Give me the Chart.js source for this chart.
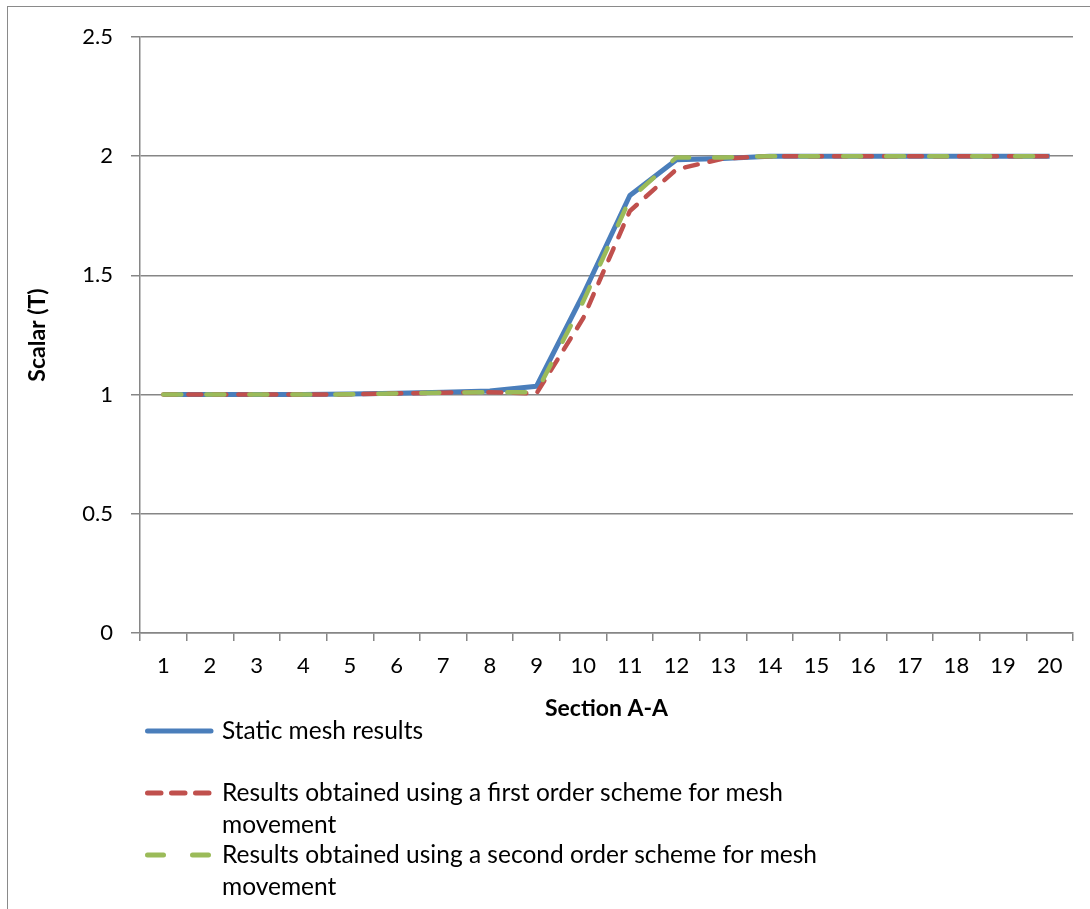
<!DOCTYPE html>
<html>
<head>
<meta charset="utf-8">
<script src="https://cdn.jsdelivr.net/npm/chart.js@4.4.1/dist/chart.umd.min.js"></script>
<style>
  html, body { margin: 0; padding: 0; background: #ffffff; overflow: hidden; }
  #wrap { position: relative; width: 1090px; height: 909px; }
  #frame { position: absolute; left: 7px; top: 6px; width: 1100px; height: 920px;
           border: 1.5px solid #8a8a8a; pointer-events: none; box-sizing: border-box; }
  canvas { position: absolute; left: 0; top: 0; }
</style>
</head>
<body>
<div id="wrap">
  <canvas id="chart" width="1090" height="909"></canvas>
  <div id="frame"></div>
</div>
<script>
// Section A-A sample positions
const sections = ['1','2','3','4','5','6','7','8','9','10','11','12','13','14','15','16','17','18','19','20'];

// Scalar T along the section
const staticMesh  = [1, 1, 1, 1, 1.002, 1.006, 1.01, 1.015, 1.035, 1.42, 1.835, 1.985, 1.99, 2, 2, 2, 2, 2, 2, 2];
const firstOrder  = [1, 1, 1, 1, 1.001, 1.005, 1.008, 1.01, 1.005, 1.32, 1.77, 1.945, 1.99, 2, 2, 2, 2, 2, 2, 2];
const secondOrder = [1, 1, 1, 1, 1.001, 1.005, 1.008, 1.01, 1.01, 1.39, 1.82, 1.995, 1.995, 2, 2, 2, 2, 2, 2, 2];

const seriesNames = [
  'Static mesh results',
  'Results obtained using a first order scheme for mesh movement',
  'Results obtained using a second order scheme for mesh movement'
];

const yTicks = [0, 0.5, 1, 1.5, 2, 2.5];

const FONT = 'Lato, "Open Sans", sans-serif';
const GRID = '#868686';

// Legend stacked under the x-axis title; long names wrap onto a second line
const legendRows = [
  { lines: ['Static mesh results'], y: 731 },
  { lines: ['Results obtained using a first order scheme for mesh', 'movement'], y: 793 },
  { lines: ['Results obtained using a second order scheme for mesh', 'movement'], y: 855 }
];
const legendKeyDash = [[], [13.5, 10.5], [16, 29]];

const stackedLegend = {
  id: 'stackedLegend',
  afterDraw(chart) {
    const ctx = chart.ctx;
    chart.data.datasets.forEach((ds, i) => {
      const row = legendRows[i];
      ctx.save();
      ctx.strokeStyle = ds.borderColor;
      ctx.lineWidth = 5;
      ctx.lineCap = 'round';
      ctx.setLineDash(legendKeyDash[i]);
      ctx.beginPath();
      ctx.moveTo(147.5, row.y);
      ctx.lineTo(211, row.y);
      ctx.stroke();
      ctx.restore();
      ctx.save();
      ctx.fillStyle = '#000000';
      ctx.font = '24.5px ' + FONT;
      ctx.textBaseline = 'middle';
      ctx.textAlign = 'left';
      row.lines.forEach((t, k) => ctx.fillText(t, 222, row.y + k * 32));
      ctx.restore();
    });
  }
};

new Chart(document.getElementById('chart'), {
  type: 'line',
  data: {
    labels: sections,
    datasets: [
      { label: seriesNames[0], data: staticMesh, borderColor: '#4a7ebb', backgroundColor: '#4a7ebb',
        borderWidth: 5, pointRadius: 0, tension: 0, order: 3, borderJoinStyle: 'round' },
      { label: seriesNames[1], data: firstOrder, borderColor: '#c0504d', backgroundColor: '#c0504d',
        borderWidth: 4.5, borderDash: [13, 12], borderCapStyle: 'round', pointRadius: 0, tension: 0, order: 2 },
      { label: seriesNames[2], data: secondOrder, borderColor: '#9bbb59', backgroundColor: '#9bbb59',
        borderWidth: 4.5, borderDash: [18, 25], borderCapStyle: 'round', pointRadius: 0, tension: 0, order: 1 }
    ]
  },
  options: {
    responsive: false,
    animation: false,
    layout: { padding: { top: 37, right: 17, left: 0, bottom: 0 } },
    plugins: { legend: { display: false }, tooltip: { enabled: false } },
    scales: {
      x: {
        offset: true,
        afterFit(scale) { scale.height = 276; },
        grid: { offset: true, drawOnChartArea: false, drawTicks: true, tickLength: 8, color: GRID, lineWidth: 1.5 },
        border: { color: GRID, width: 1.5 },
        ticks: { color: '#000000', font: { family: FONT, size: 22 }, padding: 12, maxRotation: 0, autoSkip: false },
        title: { display: true, text: 'Section A-A', color: '#000000',
                 font: { family: FONT, size: 23, weight: 'bold' }, padding: { top: 0, bottom: 187 } }
      },
      y: {
        min: 0, max: 2.5,
        afterFit(scale) { scale.width = 140; },
        afterBuildTicks(scale) { scale.ticks = yTicks.map(v => ({ value: v })); },
        grid: { color: GRID, lineWidth: 1.5, tickLength: 9, drawTicks: true },
        border: { color: GRID, width: 1.5 },
        ticks: { color: '#000000', font: { family: FONT, size: 22 }, padding: 18,
                 callback: v => String(v) },
        title: { display: true, text: 'Scalar (T)', color: '#000000',
                 font: { family: FONT, size: 23, weight: 'bold' }, padding: { top: 24, bottom: 0 } }
      }
    }
  },
  plugins: [stackedLegend]
});
</script>
</body>
</html>
